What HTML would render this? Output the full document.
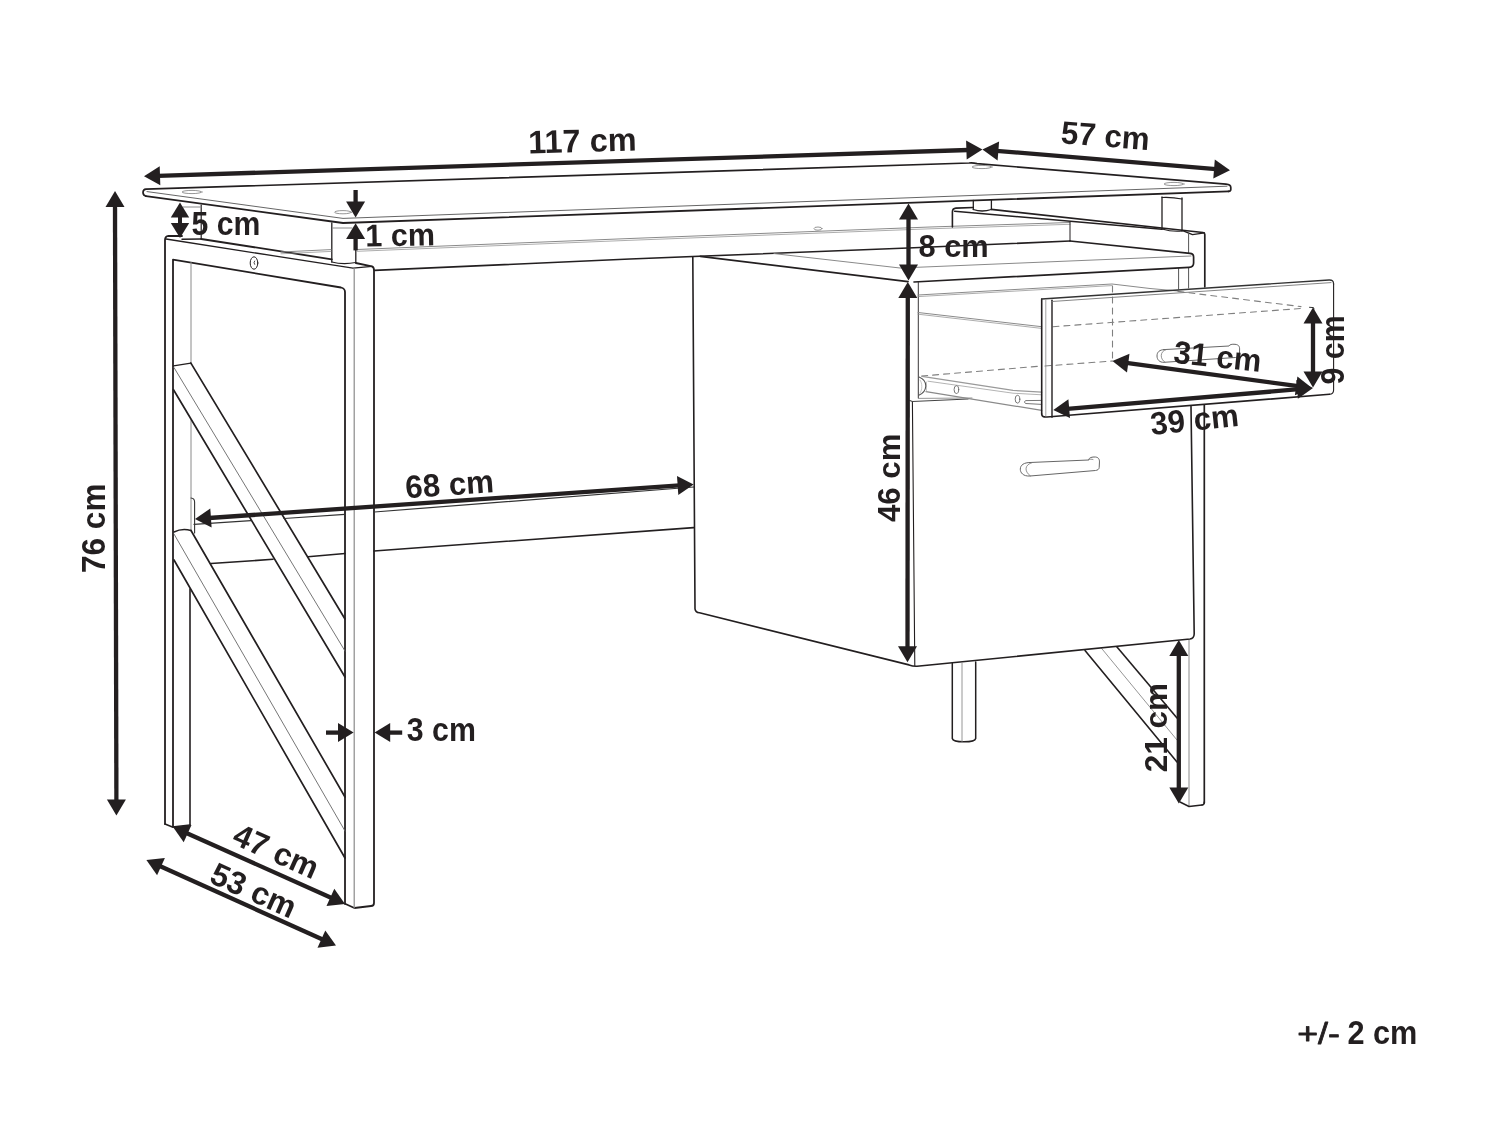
<!DOCTYPE html>
<html><head><meta charset="utf-8"><style>
html,body{margin:0;padding:0;background:#fff;}
svg{display:block;will-change:transform;}
text{font-family:"Liberation Sans",sans-serif;fill:#231f20;}
</style></head><body>
<svg width="1500" height="1125" viewBox="0 0 1500 1125" stroke-linecap="round" stroke-linejoin="round">
<rect width="1500" height="1125" fill="#fff"/>
<path d="M146,196.2 C143.5,195.5 143,194 143,192.5 C143,190.5 144,189.3 146,189.2 L969,163 Q973,162.6 977,163.6 L1226,184.2 C1229.8,184.5 1230.8,185.8 1230.8,187.6 L1230.8,189.5 C1230.8,190.8 1230,191.3 1228.5,191.4" stroke="#231f20" stroke-width="1.7" fill="none"/>
<path d="M146,196.2 L343,223 L1228.5,191.4" stroke="#231f20" stroke-width="1.8" fill="none"/>
<path d="M147,191.6 L343,218.4 L1227,186.2" stroke="#555" stroke-width="0.9" fill="none"/>
<ellipse cx="192" cy="192" rx="10" ry="1.6" stroke="#8a8a8a" stroke-width="0.9" fill="none"/>
<ellipse cx="343" cy="212.2" rx="8.5" ry="1.6" stroke="#8a8a8a" stroke-width="0.9" fill="none"/>
<ellipse cx="982" cy="167" rx="10" ry="1.6" stroke="#8a8a8a" stroke-width="0.9" fill="none"/>
<ellipse cx="1174" cy="184" rx="10" ry="1.6" stroke="#8a8a8a" stroke-width="0.9" fill="none"/>
<path d="M201.2,205 L201.2,239" stroke="#231f20" stroke-width="1.2" fill="none"/>
<path d="M183,207 L201,207" stroke="#8a8a8a" stroke-width="1.0" fill="none"/>
<path d="M331.8,223 L331.8,262" stroke="#231f20" stroke-width="1.3" fill="none"/>
<path d="M355.8,250 L355.8,262.5" stroke="#231f20" stroke-width="1.3" fill="none"/>
<path d="M332.7,228 L352,228" stroke="#8a8a8a" stroke-width="1.0" fill="none"/>
<path d="M331.8,262 Q343,265 355.8,262.5" stroke="#231f20" stroke-width="1.2" fill="none"/>
<path d="M973.3,200.5 L973.3,209.5" stroke="#231f20" stroke-width="1.3" fill="none"/>
<path d="M991.4,200 L991.4,209.5" stroke="#231f20" stroke-width="1.3" fill="none"/>
<path d="M973.3,209.5 Q982,212.5 991.4,209.5" stroke="#231f20" stroke-width="1.3" fill="none"/>
<path d="M1162,197 L1162,229" stroke="#231f20" stroke-width="1.3" fill="none"/>
<path d="M1182,198 L1182,231" stroke="#231f20" stroke-width="1.3" fill="none"/>
<path d="M1162,197.5 Q1172,197 1182,199" stroke="#231f20" stroke-width="1.1" fill="none"/>
<path d="M1162,229 Q1172,232 1182,231" stroke="#231f20" stroke-width="1.2" fill="none"/>
<path d="M165,824 L165,240 Q165,236 168.5,235.8 L182,236" stroke="#231f20" stroke-width="1.8" fill="none"/>
<path d="M182,239.3 L201.2,239" stroke="#231f20" stroke-width="1.4" fill="none"/>
<path d="M201.2,239 L331.8,259.3" stroke="#231f20" stroke-width="1.8" fill="none"/>
<path d="M355.8,263 L371.8,266.3 Q374,267 374,270 L374,903 Q374,906 371,906 L354.4,908 L345.6,904" stroke="#231f20" stroke-width="1.8" fill="none"/>
<path d="M165,824 L172.4,827 L190,825" stroke="#231f20" stroke-width="1.6" fill="none"/>
<path d="M166,239 L353,268.2 L372,266.3" stroke="#231f20" stroke-width="1.3" fill="none"/>
<path d="M173,827 L173,259.6 L341,287.5 Q345,288.5 345,292 L345,904" stroke="#231f20" stroke-width="1.8" fill="none"/>
<path d="M354.2,268.5 L354.2,908" stroke="#8a8a8a" stroke-width="1.2" fill="none"/>
<path d="M191,262.5 L191,364" stroke="#8a8a8a" stroke-width="1.0" fill="none"/>
<path d="M191,420 L191,530" stroke="#8a8a8a" stroke-width="1.0" fill="none"/>
<path d="M190,589 L190,825" stroke="#231f20" stroke-width="1.6" fill="none"/>
<ellipse cx="254" cy="263" rx="3.8" ry="6.2" stroke="#231f20" stroke-width="1" fill="none"/>
<path d="M254.6,261 Q253.2,262.6 254.6,264.4" stroke="#231f20" stroke-width="0.8" fill="none"/>
<path d="M173.5,365.8 L190.9,363.1" stroke="#231f20" stroke-width="1.3" fill="none"/>
<path d="M190.9,363.1 L345,619" stroke="#231f20" stroke-width="1.7" fill="none"/>
<path d="M173.5,389.7 L345,677" stroke="#231f20" stroke-width="1.7" fill="none"/>
<path d="M174,367.6 L345,651" stroke="#666" stroke-width="0.9" fill="none"/>
<path d="M174,532 Q182,528 191,530.5" stroke="#231f20" stroke-width="1.4" fill="none"/>
<path d="M191,530.5 L345,797" stroke="#231f20" stroke-width="1.7" fill="none"/>
<path d="M174,560 L345,858" stroke="#231f20" stroke-width="1.7" fill="none"/>
<path d="M174,534 L345,831" stroke="#666" stroke-width="0.9" fill="none"/>
<path d="M191,498 Q194.6,498.3 194.6,502 L194.6,533" stroke="#333" stroke-width="1.1" fill="none"/>
<path d="M194,524.3 L251,520.7" stroke="#333" stroke-width="1.2" fill="none"/>
<path d="M284,518.5 L345,514.4" stroke="#333" stroke-width="1.2" fill="none"/>
<path d="M374.4,512 L693.6,487" stroke="#333" stroke-width="1.2" fill="none"/>
<path d="M211,563.5 L273,559.3" stroke="#231f20" stroke-width="1.6" fill="none"/>
<path d="M308,556.8 L345,553.5" stroke="#231f20" stroke-width="1.6" fill="none"/>
<path d="M374,551 L693.6,527.6" stroke="#231f20" stroke-width="1.6" fill="none"/>
<path d="M374.4,270.4 L630,259 L908,248 L1070,241" stroke="#231f20" stroke-width="1.6" fill="none"/>
<path d="M281,252 L331,249.6" stroke="#8a8a8a" stroke-width="1.0" fill="none"/>
<path d="M357,249.5 L630,238.5 L930,227 L1070,222.5" stroke="#8a8a8a" stroke-width="1.0" fill="none"/>
<path d="M281,253.8 L331,251.4" stroke="#8a8a8a" stroke-width="0.7" fill="none"/>
<path d="M357,251.3 L630,240.3 L930,228.8 L1070,224.3" stroke="#8a8a8a" stroke-width="0.7" fill="none"/>
<ellipse cx="818" cy="228.6" rx="4" ry="1.6" stroke="#8a8a8a" stroke-width="0.9" fill="none"/>
<path d="M1070,222.5 L1070,241" stroke="#231f20" stroke-width="1.0" fill="none"/>
<path d="M952.4,227 L952.4,212 Q952.4,208.4 956,208.1 L973.3,207.5" stroke="#231f20" stroke-width="1.6" fill="none"/>
<path d="M991.4,209.4 L1203,232.5 Q1204.8,232.7 1204.8,234.5 L1204.8,286.8" stroke="#231f20" stroke-width="1.7" fill="none"/>
<path d="M954.6,211.2 L1162,229.3" stroke="#231f20" stroke-width="1.5" fill="none"/>
<path d="M1182,230.3 L1192.5,234.6 L1204.5,232.8" stroke="#231f20" stroke-width="1.3" fill="none"/>
<path d="M1188.6,234.3 L1188.6,253" stroke="#555" stroke-width="1.0" fill="none"/>
<path d="M1188.6,268.2 L1188.6,288" stroke="#555" stroke-width="1.0" fill="none"/>
<path d="M1178.6,268.5 L1178.6,289" stroke="#555" stroke-width="1.0" fill="none"/>
<path d="M1204.3,405 L1204.3,803" stroke="#231f20" stroke-width="1.7" fill="none"/>
<path d="M1189,640 L1189,806" stroke="#8a8a8a" stroke-width="1.0" fill="none"/>
<path d="M1180,802 L1189,806.5 L1202,805" stroke="#231f20" stroke-width="1.5" fill="none"/>
<path d="M1202,805 Q1204.3,805 1204.3,802" stroke="#231f20" stroke-width="1.5" fill="none"/>
<path d="M1085,650.5 L1177,762" stroke="#231f20" stroke-width="1.6" fill="none"/>
<path d="M1101.7,648.5 L1177,740" stroke="#8a8a8a" stroke-width="0.9" fill="none"/>
<path d="M1117,647 L1177,718" stroke="#231f20" stroke-width="1.6" fill="none"/>
<path d="M700.3,256.3 L908,281.6" stroke="#231f20" stroke-width="1.7" fill="none"/>
<path d="M914,282 L1189,267.3 Q1193.6,267 1193.6,263 L1193.6,257 Q1193.6,253.8 1190,253.4 L1070,241" stroke="#231f20" stroke-width="1.7" fill="none"/>
<path d="M774,253.6 L900,268 L1191,256" stroke="#8a8a8a" stroke-width="1.0" fill="none"/>
<path d="M692.8,257.2 L695,608.8 Q695.4,612.2 699.5,612.8 L909,664.9 Q913,666.5 917,666.3 L1190,639 Q1194,638.5 1194.2,634 L1191,406.4" stroke="#231f20" stroke-width="1.6" fill="none"/>
<path d="M912.4,401.5 L914.8,665.5" stroke="#231f20" stroke-width="1.1" fill="none"/>
<path d="M918.3,282.5 L918.3,398" stroke="#231f20" stroke-width="0.9" fill="none"/>
<path d="M909.8,400.4 L912.4,401.5 L968,399" stroke="#444" stroke-width="1.1" fill="none"/>
<path d="M1030,462.5 L1088.5,460 C1089,457.5 1092,456.8 1095.5,457 C1099.5,457.5 1099.6,460.5 1099.4,463 L1099.2,467.5 C1099,469.5 1097.5,470.2 1095.5,470.5 L1030,476 C1023,476.5 1020.3,472.5 1020.3,469.2 C1020.3,465 1024,462.5 1030,462.5 Z" stroke="#666" stroke-width="1.0" fill="none"/>
<path d="M1032,462.7 C1025,464.5 1023.5,471 1030.5,476" stroke="#777" stroke-width="0.8" fill="none"/>
<path d="M1088.5,460 C1090,459 1091.5,459 1093,459.5" stroke="#777" stroke-width="0.8" fill="none"/>
<path d="M952.3,663.5 L952.3,738.5 Q953,741.8 964,741.8 Q975,741.8 975.7,738.5 L975.7,662" stroke="#231f20" stroke-width="1.5" fill="none"/>
<path d="M962,663 L962,741.5" stroke="#8a8a8a" stroke-width="0.9" fill="none"/>
<path d="M918,295 L1112,284 L1150,288.5 L1178,291" stroke="#8a8a8a" stroke-width="1.0" fill="none"/>
<path d="M918,296.6 L1112,285.6" stroke="#8a8a8a" stroke-width="0.7" fill="none"/>
<path d="M918,312.5 L1041.7,326.7" stroke="#8a8a8a" stroke-width="1.0" fill="none"/>
<path d="M918,314.2 L1041.7,328.4" stroke="#8a8a8a" stroke-width="0.7" fill="none"/>
<path d="M921.7,376 L1041.7,366" stroke="#808080" stroke-width="1.1" fill="none" stroke-dasharray="6 5"/>
<path d="M1045,366 L1112.5,361" stroke="#808080" stroke-width="1.1" fill="none" stroke-dasharray="6 5"/>
<path d="M1053,326.7 L1301,308.5" stroke="#808080" stroke-width="1.1" fill="none" stroke-dasharray="6 5"/>
<path d="M1178,291.4 L1301,306.6" stroke="#808080" stroke-width="1.1" fill="none" stroke-dasharray="6 5"/>
<path d="M1309.5,307.3 L1313.5,307.6 L1314,309" stroke="#333" stroke-width="1.0" fill="none"/>
<path d="M1112.5,286 L1112.5,361" stroke="#808080" stroke-width="1.1" fill="none" stroke-dasharray="6 5"/>
<path d="M922,376.4 L1013,390.4 L1041.7,392.2" stroke="#9a9a9a" stroke-width="1.3" fill="none"/>
<path d="M928,381.2 L1013,393.2 L1041.7,394.8" stroke="#aaa" stroke-width="0.9" fill="none"/>
<path d="M926,391.6 L1041.7,410.4" stroke="#8a8a8a" stroke-width="1.2" fill="none"/>
<path d="M926.5,382 L926.5,391" stroke="#bbb" stroke-width="0.8" fill="none"/>
<path d="M919,377 C924,379 925.9,382 925.8,386 C925.6,390 923,393.5 918.8,395.2" stroke="#555" stroke-width="1.1" fill="none"/>
<path d="M920,380 C922.5,383 922.5,390 920,393" stroke="#aaa" stroke-width="0.7" fill="none"/>
<ellipse cx="956.4" cy="389.6" rx="2.3" ry="3.9" stroke="#666" stroke-width="0.9" fill="none"/>
<ellipse cx="1017.5" cy="399.2" rx="2.3" ry="3.9" stroke="#666" stroke-width="0.9" fill="none"/>
<path d="M1041.7,400.4 L1025.5,400.6 Q1023.4,402 1025.5,403.5 L1041.7,404.4" stroke="#777" stroke-width="1.0" fill="none"/>
<path d="M918.4,398.4 L972,398" stroke="#8a8a8a" stroke-width="0.9" fill="none"/>
<path d="M1041.7,414 L1041.7,299" stroke="#231f20" stroke-width="1.6" fill="none"/>
<path d="M1041.7,299 L1329,280 Q1333.6,279.7 1333.6,284" stroke="#333" stroke-width="1.3" fill="none"/>
<path d="M1333.6,284 L1333.6,390 Q1333.6,394 1329.5,394.3" stroke="#231f20" stroke-width="1.1" fill="none"/>
<path d="M1329.5,394.3 L1047,417 Q1041.7,417.5 1041.7,414" stroke="#231f20" stroke-width="1.6" fill="none"/>
<path d="M1045.8,300 L1045.8,416" stroke="#8a8a8a" stroke-width="0.8" fill="none"/>
<path d="M1052,300.3 L1052,417.3" stroke="#231f20" stroke-width="1.4" fill="none"/>
<path d="M1052,301.5 L1331,282.6" stroke="#777" stroke-width="0.9" fill="none"/>
<path d="M1164,349.6 L1229,346 C1229.5,344.6 1232,344 1235,344.3 C1238.8,344.7 1239.6,346.5 1239.6,349 L1239.5,353.5 C1239.3,356 1238,357.2 1235.5,357.5 L1164,362.3 C1159.5,362.6 1157,359.5 1157,356 C1157,352 1159.5,349.8 1164,349.6 Z" stroke="#666" stroke-width="1.0" fill="none"/>
<path d="M1166,349.7 C1160,351 1159.5,359 1165,362.2" stroke="#777" stroke-width="0.8" fill="none"/>
<path d="M158,175.9 L968.4,150" stroke="#231f20" stroke-width="4.3" fill="none" stroke-linecap="butt"/>
<path d="M982.4,149.6 L966.7,159.6 L966.1,140.6 Z" fill="#231f20"/>
<path d="M144,176.3 L159.7,166.3 L160.3,185.3 Z" fill="#231f20"/>
<path d="M996.4,150.8 L1216,169.1" stroke="#231f20" stroke-width="4.3" fill="none" stroke-linecap="butt"/>
<path d="M1230,170.3 L1213.3,178.4 L1214.8,159.5 Z" fill="#231f20"/>
<path d="M982.4,149.6 L999.1,141.5 L997.6,160.4 Z" fill="#231f20"/>
<path d="M115,205 L116.4,801.6" stroke="#231f20" stroke-width="4.3" fill="none" stroke-linecap="butt"/>
<path d="M116.4,815.6 L106.9,799.6 L125.9,799.6 Z" fill="#231f20"/>
<path d="M115,191 L124.5,207 L105.5,207 Z" fill="#231f20"/>
<path d="M180,202.4 L189.2,217.4 L170.8,217.4 Z" fill="#231f20"/>
<path d="M180,238 L170.8,223 L189.2,223 Z" fill="#231f20"/>
<path d="M180,216 L180,225" stroke="#231f20" stroke-width="4" fill="none"/>
<path d="M355.6,190 L355.6,203.6" stroke="#231f20" stroke-width="4.3" fill="none" stroke-linecap="butt"/>
<path d="M355.6,217.6 L346.1,201.6 L365.1,201.6 Z" fill="#231f20"/>
<path d="M355.6,250.4 L355.6,236.9" stroke="#231f20" stroke-width="4.3" fill="none" stroke-linecap="butt"/>
<path d="M355.6,223.3 L365.1,238.9 L346.1,238.9 Z" fill="#231f20"/>
<path d="M908.5,217.6 L908.5,266.5" stroke="#231f20" stroke-width="4.3" fill="none" stroke-linecap="butt"/>
<path d="M908.5,280.5 L899,264.5 L918,264.5 Z" fill="#231f20"/>
<path d="M908.5,203.6 L918,219.6 L899,219.6 Z" fill="#231f20"/>
<path d="M907.8,296 L907.5,648.3" stroke="#231f20" stroke-width="4.3" fill="none" stroke-linecap="butt"/>
<path d="M907.5,662.3 L898,646.3 L917,646.3 Z" fill="#231f20"/>
<path d="M907.8,282 L917.3,298 L898.3,298 Z" fill="#231f20"/>
<path d="M209,518 L679.6,485.4" stroke="#231f20" stroke-width="4.3" fill="none" stroke-linecap="butt"/>
<path d="M693.6,484.4 L678.3,495 L677,476 Z" fill="#231f20"/>
<path d="M195,519 L210.3,508.4 L211.6,527.4 Z" fill="#231f20"/>
<path d="M326,732.6 L340,732.6" stroke="#231f20" stroke-width="4.3" fill="none" stroke-linecap="butt"/>
<path d="M353.6,732.6 L338,742.1 L338,723.1 Z" fill="#231f20"/>
<path d="M402.2,732.6 L388.2,732.6" stroke="#231f20" stroke-width="4.3" fill="none" stroke-linecap="butt"/>
<path d="M374.6,732.6 L390.2,723.1 L390.2,742.1 Z" fill="#231f20"/>
<path d="M185.8,832.7 L332.2,898.3" stroke="#231f20" stroke-width="4.3" fill="none" stroke-linecap="butt"/>
<path d="M345,904 L326.5,906.1 L334.3,888.8 Z" fill="#231f20"/>
<path d="M173,827 L191.5,824.9 L183.7,842.2 Z" fill="#231f20"/>
<path d="M159.2,865.8 L323.2,939.8" stroke="#231f20" stroke-width="4.3" fill="none" stroke-linecap="butt"/>
<path d="M336,945.6 L317.5,947.7 L325.3,930.4 Z" fill="#231f20"/>
<path d="M146.4,860 L164.9,857.9 L157.1,875.2 Z" fill="#231f20"/>
<path d="M1178.8,654 L1178.8,789.5" stroke="#231f20" stroke-width="4.3" fill="none" stroke-linecap="butt"/>
<path d="M1178.8,803.5 L1169.3,787.5 L1188.3,787.5 Z" fill="#231f20"/>
<path d="M1178.8,640 L1188.3,656 L1169.3,656 Z" fill="#231f20"/>
<path d="M1126.3,362.9 L1298.1,386.1" stroke="#231f20" stroke-width="4.3" fill="none" stroke-linecap="butt"/>
<path d="M1312,388 L1294.9,395.3 L1297.4,376.4 Z" fill="#231f20"/>
<path d="M1112.4,361 L1129.5,353.7 L1127,372.6 Z" fill="#231f20"/>
<path d="M1067.3,408.8 L1299,389.2" stroke="#231f20" stroke-width="4.3" fill="none" stroke-linecap="butt"/>
<path d="M1313,388 L1297.9,398.8 L1296.3,379.9 Z" fill="#231f20"/>
<path d="M1053.3,410 L1068.4,399.2 L1070,418.1 Z" fill="#231f20"/>
<path d="M1313,321.5 L1313,373.5" stroke="#231f20" stroke-width="4.3" fill="none" stroke-linecap="butt"/>
<path d="M1313,387.5 L1303.5,371.5 L1322.5,371.5 Z" fill="#231f20"/>
<path d="M1313,307.5 L1322.5,323.5 L1303.5,323.5 Z" fill="#231f20"/>
<text x="528.6" y="153.4" font-size="32.6" font-weight="bold" textLength="108.2" lengthAdjust="spacingAndGlyphs" transform="rotate(-1.5 528.6 153.4)">117 cm</text>
<text x="1060.3" y="143.2" font-size="32" font-weight="bold" textLength="88.8" lengthAdjust="spacingAndGlyphs" transform="rotate(4.5 1060.3 143.2)">57 cm</text>
<text x="105.2" y="573" font-size="32.6" font-weight="bold" textLength="89.5" lengthAdjust="spacingAndGlyphs" transform="rotate(-90 105.2 573)">76 cm</text>
<text x="191.5" y="234.8" font-size="32.3" font-weight="bold" textLength="68.8" lengthAdjust="spacingAndGlyphs">5 cm</text>
<text x="365.6" y="246.4" font-size="31.5" font-weight="bold" textLength="69.6" lengthAdjust="spacingAndGlyphs" transform="rotate(-1 365.6 246.4)">1 cm</text>
<text x="918.5" y="256.5" font-size="32" font-weight="bold" textLength="70.2" lengthAdjust="spacingAndGlyphs">8 cm</text>
<text x="406.1" y="498.3" font-size="32" font-weight="bold" textLength="88.7" lengthAdjust="spacingAndGlyphs" transform="rotate(-4 406.1 498.3)">68 cm</text>
<text x="900" y="522" font-size="32" font-weight="bold" textLength="88.4" lengthAdjust="spacingAndGlyphs" transform="rotate(-90 900 522)">46 cm</text>
<text x="406.8" y="740.5" font-size="32.3" font-weight="bold" textLength="69.1" lengthAdjust="spacingAndGlyphs">3 cm</text>
<text x="1172.7" y="362.7" font-size="32" font-weight="bold" textLength="88" lengthAdjust="spacingAndGlyphs" transform="rotate(6 1172.7 362.7)">31 cm</text>
<text x="1343.8" y="384.5" font-size="32.3" font-weight="bold" textLength="69.2" lengthAdjust="spacingAndGlyphs" transform="rotate(-90 1343.8 384.5)">9 cm</text>
<text x="1151.4" y="435" font-size="32" font-weight="bold" textLength="88.7" lengthAdjust="spacingAndGlyphs" transform="rotate(-6 1151.4 435)">39 cm</text>
<text x="1166.6" y="772.2" font-size="32" font-weight="bold" textLength="89.2" lengthAdjust="spacingAndGlyphs" transform="rotate(-90 1166.6 772.2)">21 cm</text>
<text x="230.7" y="843" font-size="32" font-weight="bold" textLength="89.8" lengthAdjust="spacingAndGlyphs" transform="rotate(24 230.7 843)">47 cm</text>
<text x="208.1" y="882" font-size="32" font-weight="bold" textLength="90.1" lengthAdjust="spacingAndGlyphs" transform="rotate(24 208.1 882)">53 cm</text>
<text x="1297.2" y="1044" font-size="29.5" font-weight="normal" stroke="#231f20" stroke-width="0.8" textLength="42.7" lengthAdjust="spacingAndGlyphs">+/-</text>
<text x="1347.4" y="1044.1" font-size="32.6" font-weight="bold" textLength="69.9" lengthAdjust="spacingAndGlyphs">2 cm</text>
</svg>
</body></html>
